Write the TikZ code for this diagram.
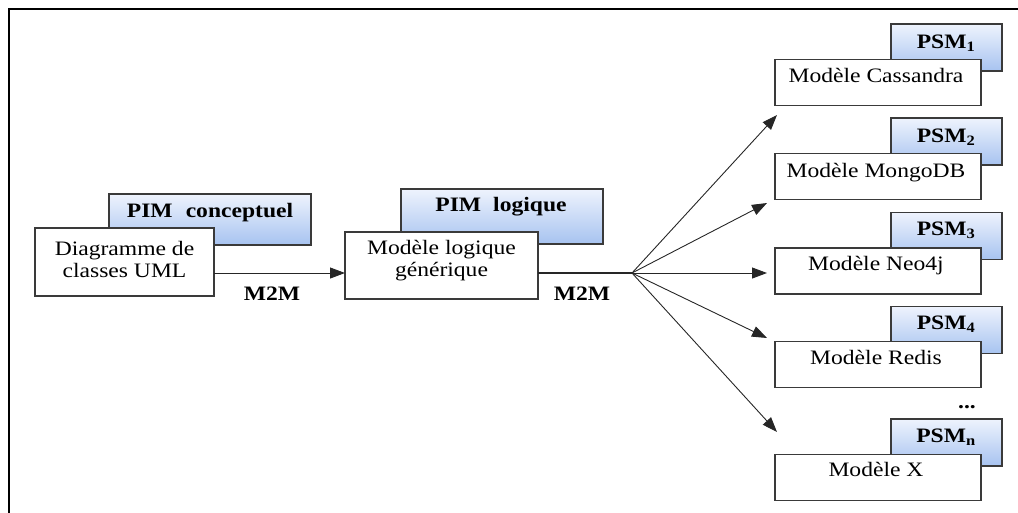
\documentclass[tikz,border=0pt]{standalone}
\usepackage{fontspec}
\setmainfont{Liberation Serif}[FakeStretch=1.15]
\usetikzlibrary{arrows.meta}
\definecolor{tabtop}{HTML}{EEF3FD}
\definecolor{tabbot}{HTML}{A7C3F0}
\definecolor{edge}{HTML}{3A3A3A}
\begin{document}
\begin{tikzpicture}[x=1pt,y=-1pt,
  tab/.style={draw=edge,line width=1.3pt,top color=tabtop,bottom color=tabbot,inner sep=0pt,outer sep=0pt},
  wbox/.style={draw=edge,line width=1.3pt,fill=white,inner sep=0pt,outer sep=0pt},
  txt/.style={font=\fontsize{20.5}{22}\selectfont,inner sep=0pt,align=center},
  btxt/.style={font=\fontsize{20.5}{22}\selectfont\bfseries,inner sep=0pt,text height=14pt,text depth=4pt},
  rtxt/.style={font=\fontsize{20.5}{22}\selectfont,inner sep=0pt,text height=14pt,text depth=4pt},
  arr/.style={draw=black!85,line width=0.9pt,-{Triangle[length=15pt,width=11pt]}}]
\useasboundingbox (0,0) rectangle (1018,512);
\draw[line width=2.2pt] (9,520) -- (9,9) -- (1025,9);

% left: PIM conceptuel
\node[tab,minimum width=202pt,minimum height=51pt] (tab0) at (210,219.5) {};
\node[wbox,minimum width=179pt,minimum height=68pt] (b1) at (124.5,262) {};
\node[btxt] (t0) at (210,212) {PIM\hspace{0.35em} conceptuel};
\node[txt] (l1) at (124.5,259) {Diagramme de\\classes UML};

% middle: PIM logique
\node[tab,minimum width=202pt,minimum height=55pt] (tab2) at (502,216.5) {};
\node[wbox,minimum width=193pt,minimum height=67pt] (b2) at (441.5,265.5) {};
\node[btxt] (t2) at (501,206) {PIM\hspace{0.3em} logique};
\node[txt] (l2) at (441.5,261) {Modèle logique\\générique};

% right column
\foreach \i/\ty/\by/\lab/\nm/\py/\my in {
  1/47.5/82.5/{PSM\textsubscript{1}}/{Modèle Cassandra}/43/77,
  2/141.5/176.5/{PSM\textsubscript{2}}/{Modèle MongoDB}/137/172,
  3/236/271/{PSM\textsubscript{3}}/{Modèle Neo4j}/230/265,
  4/330/364.5/{PSM\textsubscript{4}}/{Modèle Redis}/324/359,
  5/442.5/477.5/{PSM\textsubscript{n}}/{Modèle X}/437/471}{
  \node[tab,minimum width=111pt,minimum height=47pt] (pt\i) at (946.5,\ty) {};
  \node[wbox,minimum width=206pt,minimum height=46pt] (pb\i) at (878,\by) {};
  \node[btxt] (pl\i) at (946,\py) {\lab};
  \node[rtxt] (pn\i) at (876,\my) {\nm};
}
\node[btxt] (dots) at (967,403) {...};

% connectors
\coordinate (fan) at (632,273);
\coordinate (e1) at (777,115);
\coordinate (e2) at (767,203);
\coordinate (e3) at (767,273);
\coordinate (e4) at (767,338);
\coordinate (e5) at (777,432);
\draw[arr] (b1.east |- fan) -- (b2.west |- fan);
\draw[draw=black!85,line width=1.2pt] (b2.east |- fan) -- (fan);
\foreach \k in {1,...,5} \draw[arr] (fan) -- (e\k);

\node[btxt] (m1) at (272,295) {M2M};
\node[btxt] (m2) at (582,295) {M2M};
\end{tikzpicture}
\end{document}
